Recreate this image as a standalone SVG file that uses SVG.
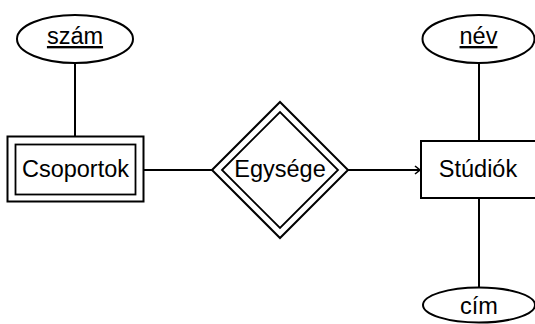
<svg xmlns="http://www.w3.org/2000/svg" width="535" height="324" viewBox="0 0 535 324">
  <defs>
    <style>
      .shape { fill: #ffffff; stroke: #000000; stroke-width: 2; }
      .thin { fill: none; stroke: #000000; stroke-width: 1.8; }
      .edge { fill: none; stroke: #000000; stroke-width: 2; }
      .label { font-family: "Liberation Sans", Arial, sans-serif; font-size: 23.5px; fill: #000000; text-anchor: middle; }
      .key { text-decoration: underline; }
    </style>
    <marker id="openArrow" markerWidth="10" markerHeight="10" refX="7" refY="5" orient="auto" markerUnits="userSpaceOnUse">
      <path d="M2,1 L7,5 L2,9" fill="none" stroke="#000000" stroke-width="1.6"/>
    </marker>
  </defs>

  <!-- connectors -->
  <g id="connectors">
    <line class="edge" x1="75" y1="63" x2="75" y2="137"/>
    <line class="edge" x1="144" y1="170" x2="212" y2="170"/>
    <line class="edge" x1="348" y1="170" x2="420" y2="170" marker-end="url(#openArrow)"/>
    <line class="edge" x1="479" y1="63" x2="479" y2="141"/>
    <line class="edge" x1="479" y1="198" x2="479" y2="287"/>
  </g>

  <!-- weak entity set -->
  <g id="csoportok">
    <rect class="shape" x="7.5" y="136.5" width="136" height="65"/>
    <rect class="thin" x="15.5" y="144.5" width="120" height="50"/>
    <text class="label" x="75.5" y="177">Csoportok</text>
  </g>

  <!-- identifying relationship -->
  <g id="egysege">
    <polygon class="shape" points="212,170 280,102 348,170 280,238"/>
    <polygon class="thin" points="222,170 280,112 338,170 280,228"/>
    <text class="label" x="280" y="177">Egysége</text>
  </g>

  <!-- entity set -->
  <g id="studiok">
    <rect class="shape" x="421" y="141" width="117" height="57"/>
    <text class="label" x="478" y="177">Stúdiók</text>
  </g>

  <!-- attributes -->
  <g id="szam">
    <ellipse class="shape" cx="75" cy="39" rx="58" ry="24"/>
    <text class="label key" x="75" y="44">szám</text>
  </g>
  <g id="nev">
    <ellipse class="shape" cx="478.5" cy="39" rx="56" ry="24"/>
    <text class="label key" x="478.5" y="44">név</text>
  </g>
  <g id="cim">
    <ellipse class="shape" cx="479" cy="305" rx="56" ry="17.5"/>
    <text class="label" x="479" y="314">cím</text>
  </g>
</svg>
